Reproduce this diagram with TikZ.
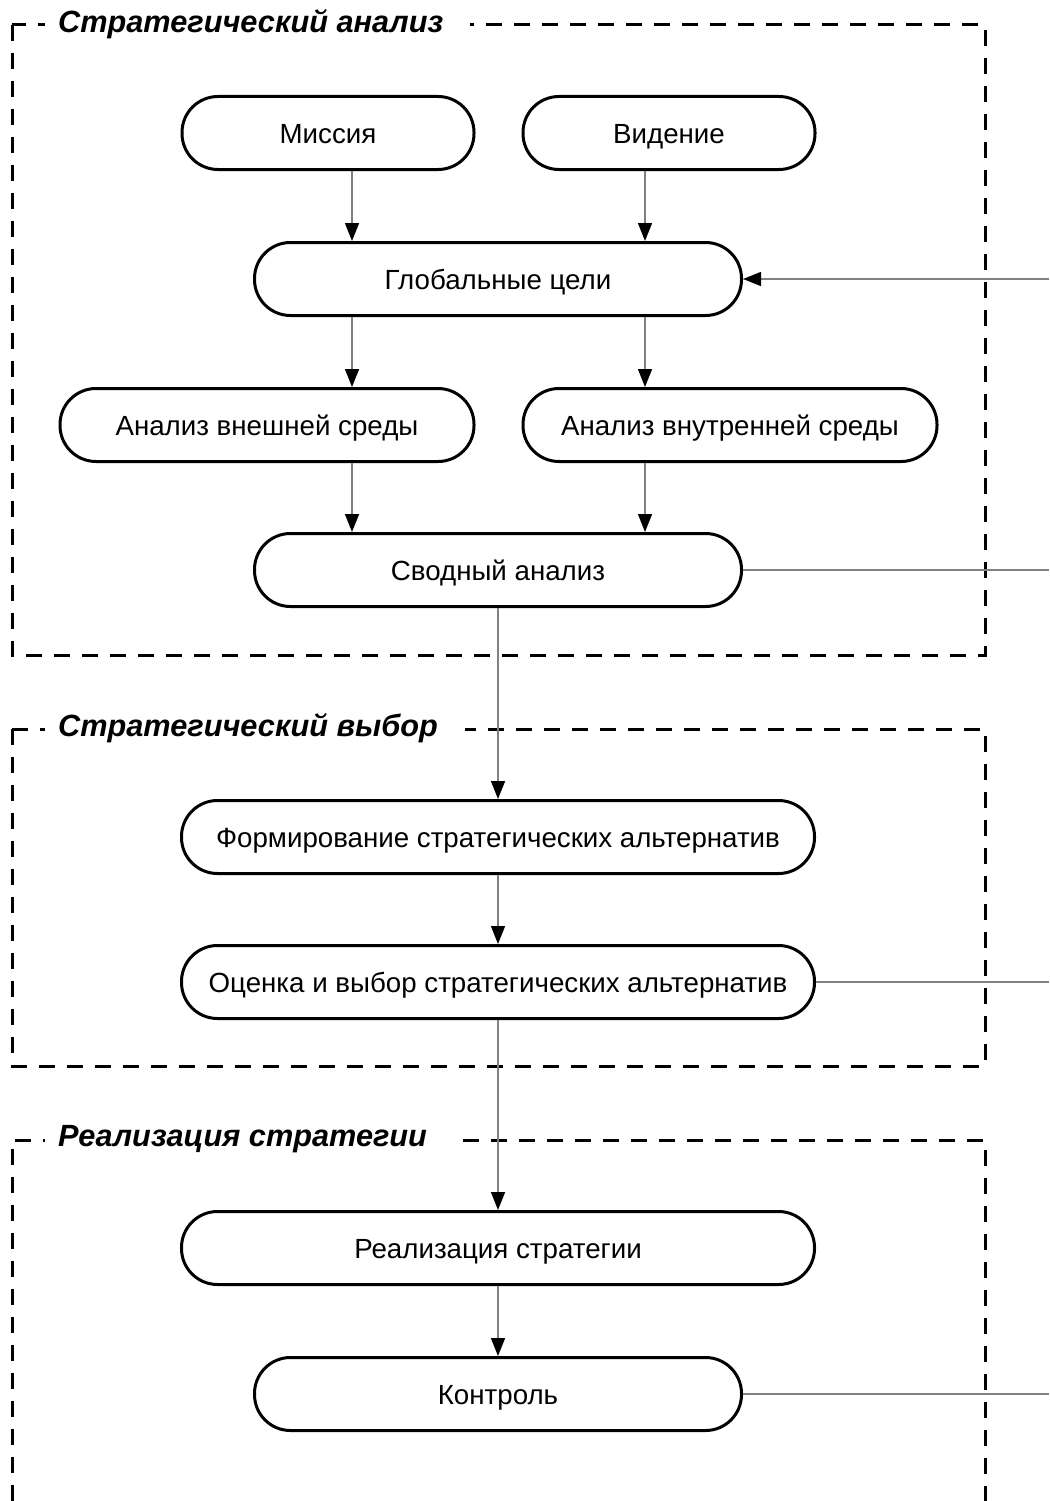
\documentclass[tikz,border=0pt]{standalone}
\usepackage{fontspec}
\setmainfont{Liberation Sans}
\usetikzlibrary{arrows.meta}
\begin{document}
\begin{tikzpicture}[x=1pt,y=-1pt,
 blk/.style={draw=black, line width=3pt, rounded corners=36pt, minimum height=73pt, inner sep=0pt, font=\fontsize{27.7}{32}\selectfont, text height=20pt, text depth=0pt, fill=white},
 conn/.style={draw=black!50, line width=1.5pt, -{Triangle[length=18pt,width=14pt,color=black,fill=black]}},
 plain/.style={draw=black!50, line width=1.5pt},
 frame/.style={line width=3pt, dash pattern=on 16pt off 12pt},
 ttl/.style={font=\fontsize{30.7}{36}\selectfont\bfseries\itshape, fill=white, anchor=west, inner xsep=13pt, inner ysep=2pt}]
\useasboundingbox (0,0) rectangle (1049,1501);
% frames
\draw[frame] (12,25) rectangle (985,655);
\draw[frame] (12,729) rectangle (985,1066);
\draw[frame] (12,1501) -- (12,1140) -- (985,1140) -- (985,1501);
\node[ttl] (t1) at (45,24) {Стратегический анализ\hspace*{14pt}};
\node[ttl] (t2) at (45,728) {Стратегический выбор\hspace*{14pt}};
\node[ttl] (t3) at (45,1139) {Реализация стратегии\hspace*{14pt}};
% nodes
\node[blk, minimum width=292pt] (mis) at (328,133) {Миссия};
\node[blk, minimum width=292pt] (vid) at (669,133) {Видение};
\node[blk, minimum width=487pt] (glob) at (498,279) {Глобальные цели};
\node[blk, minimum width=414pt] (ext) at (267,425) {Анализ внешней среды};
\node[blk, minimum width=414pt] (int) at (730,425) {Анализ внутренней среды};
\node[blk, minimum width=487pt] (svod) at (498,570) {Сводный анализ};
\node[blk, minimum width=633pt] (form) at (498,837) {Формирование стратегических альтернатив};
\node[blk, minimum width=633pt] (ocen) at (498,982) {Оценка и выбор стратегических альтернатив};
\node[blk, minimum width=633pt] (real) at (498,1248) {Реализация стратегии};
\node[blk, minimum width=487pt] (kont) at (498,1394) {Контроль};
% edge coordinates
\coordinate (e1) at (1049,279);
\coordinate (e2) at (1049,570);
\coordinate (e3) at (1049,982);
\coordinate (e4) at (1049,1394);
% connectors
\draw[conn] ([xshift=24pt]mis.south) -- ([xshift=24pt]mis.south |- glob.north);
\draw[conn] ([xshift=-24pt]vid.south) -- ([xshift=-24pt]vid.south |- glob.north);
\draw[conn] ([xshift=-146pt]glob.south) -- ([xshift=-146pt]glob.south |- ext.north);
\draw[conn] ([xshift=147pt]glob.south) -- ([xshift=147pt]glob.south |- int.north);
\draw[conn] ([xshift=85pt]ext.south) -- ([xshift=85pt]ext.south |- svod.north);
\draw[conn] ([xshift=-85pt]int.south) -- ([xshift=-85pt]int.south |- svod.north);
\draw[conn] (svod.south) -- (form.north);
\draw[conn] (form.south) -- (ocen.north);
\draw[conn] (ocen.south) -- (real.north);
\draw[conn] (real.south) -- (kont.north);
\draw[conn] (e1) -- (glob.east);
\draw[plain] (svod.east) -- (e2);
\draw[plain] (ocen.east) -- (e3);
\draw[plain] (kont.east) -- (e4);
\end{tikzpicture}
\end{document}
